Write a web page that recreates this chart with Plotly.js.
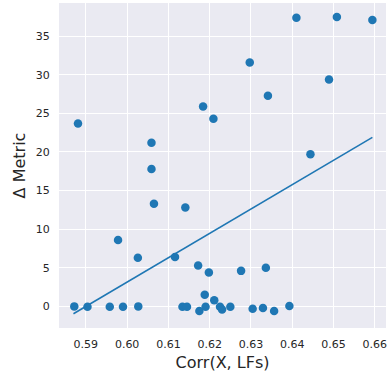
<!DOCTYPE html>
<html>
<head>
<meta charset="utf-8">
<script src="https://cdn.plot.ly/plotly-3.0.1.min.js"></script>
<style>html,body{margin:0;padding:0;background:#fff;}#chart{width:387px;height:373px;}</style>
</head>
<body>
<div id="chart"></div>
<script>
const corrX = [0.5881, 0.6059, 0.6059, 0.6184, 0.6209, 0.6410, 0.6508, 0.6594, 0.6297, 0.6489,
  0.6341, 0.6444, 0.6065, 0.6141, 0.5978, 0.6026, 0.6116, 0.6172, 0.6198, 0.6188,
  0.6211, 0.5872, 0.5904, 0.5958, 0.5990, 0.6027, 0.6134, 0.6145, 0.6175, 0.6190,
  0.6225, 0.6230, 0.6250, 0.6304, 0.6329, 0.6356, 0.6393, 0.6276, 0.6336];
const deltaMetric = [23.7, 21.2, 17.8, 25.9, 24.3, 37.4, 37.5, 37.1, 31.6, 29.4,
  27.3, 19.7, 13.3, 12.8, 8.6, 6.3, 6.4, 5.3, 4.4, 1.5,
  0.8, 0.0, -0.05, -0.05, -0.05, 0.0, -0.05, -0.05, -0.6, -0.05,
  -0.05, -0.4, -0.05, -0.3, -0.2, -0.6, 0.05, 4.6, 5.0];
const fitX = [0.5870, 0.6594];
const fitY = [-0.96, 21.9];
const xTicks = [0.59, 0.60, 0.61, 0.62, 0.63, 0.64, 0.65, 0.66];
const xTickLabels = ["0.59", "0.60", "0.61", "0.62", "0.63", "0.64", "0.65", "0.66"];
const yTicks = [0, 5, 10, 15, 20, 25, 30, 35];

const blue = '#1f77b4';
const data = [
  {x: corrX, y: deltaMetric, type: 'scatter', mode: 'markers',
   marker: {color: blue, size: 8.5, line: {width: 0}}, hoverinfo: 'skip'},
  {x: fitX, y: fitY, type: 'scatter', mode: 'lines',
   line: {color: blue, width: 1.6}, hoverinfo: 'skip'}
];
const font = {family: 'DejaVu Sans, sans-serif', color: '#262626'};
const layout = {
  width: 387, height: 373,
  margin: {l: 59, r: 1, t: 3, b: 45},
  paper_bgcolor: '#ffffff', plot_bgcolor: '#EAEAF2',
  showlegend: false,
  font: font,
  xaxis: {
    range: [0.5835, 0.6627], tickvals: xTicks, ticktext: xTickLabels,
    showgrid: true, gridcolor: '#ffffff', gridwidth: 1, zeroline: false,
    showline: false, ticks: 'outside', ticklen: 6, tickcolor: 'rgba(0,0,0,0)',
    ticklabeloverflow: 'allow',
    tickfont: {size: 11, color: '#262626'},
    title: {text: 'Corr(X, LFs)', font: {size: 16, color: '#262626'}, standoff: 6}
  },
  yaxis: {
    range: [-2.8, 39.3], tickvals: yTicks,
    showgrid: true, gridcolor: '#ffffff', gridwidth: 1, zeroline: false,
    showline: false, ticks: 'outside', ticklen: 6, tickcolor: 'rgba(0,0,0,0)',
    tickfont: {size: 11, color: '#262626'},
    title: {text: 'Δ Metric', font: {size: 16, color: '#262626'}, standoff: 6}
  }
};
Plotly.newPlot('chart', data, layout, {displayModeBar: false, staticPlot: true});
</script>
</body>
</html>
